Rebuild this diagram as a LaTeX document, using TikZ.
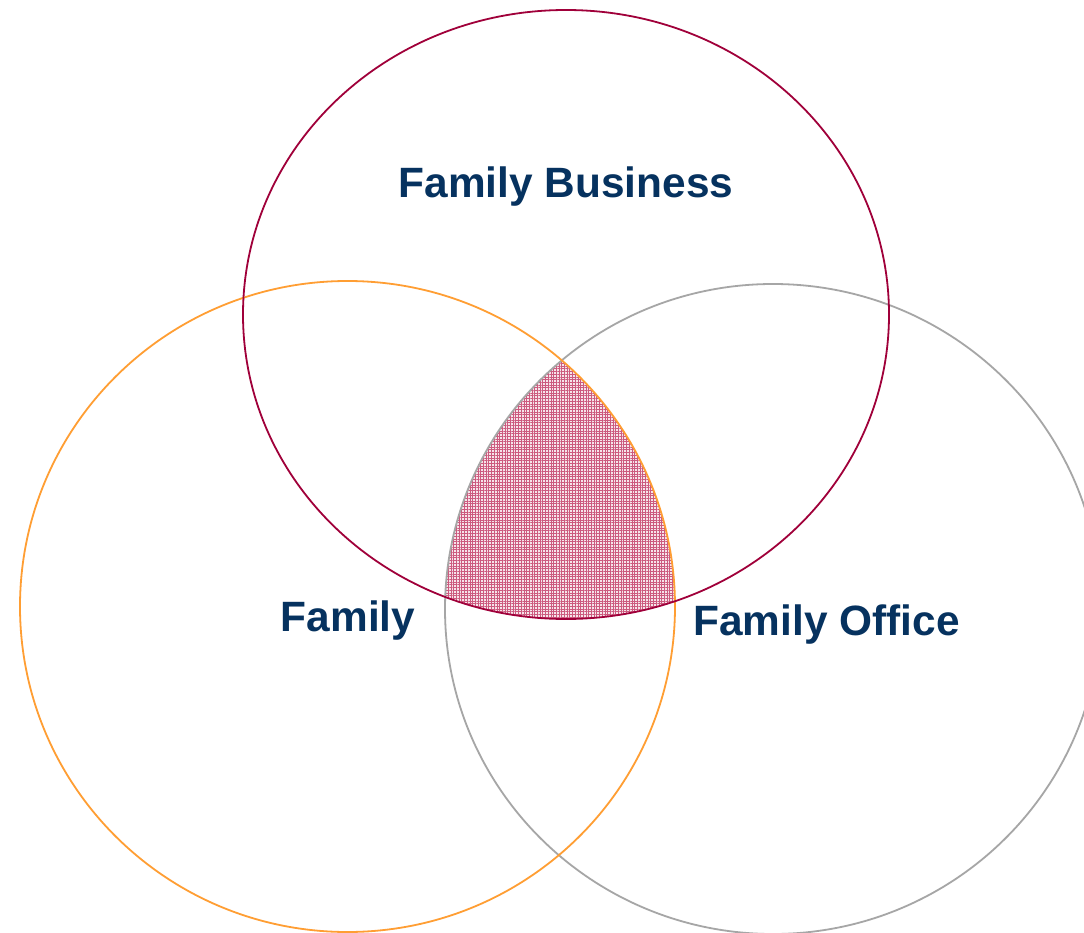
\documentclass[tikz,border=0pt]{standalone}
\usepackage{fontspec}
\setmainfont{Liberation Sans}
\usetikzlibrary{patterns.meta}
\definecolor{maroon}{HTML}{A0003A}
\definecolor{orng}{HTML}{FF9E33}
\definecolor{grayc}{HTML}{A6A6A6}
\definecolor{navy}{HTML}{06325F}
\definecolor{hatchbg}{HTML}{F6E4EA}
\definecolor{hatchln}{HTML}{CC5A7E}
\tikzset{
  ring/.style={line width=1.8pt},
  lbl/.style={inner sep=0pt, anchor=base, text=navy, font=\fontsize{42.4}{50}\selectfont\bfseries},
}
\begin{document}
\begin{tikzpicture}[x=1pt,y=-1pt]
\useasboundingbox (0,0) rectangle (1084,933);
\clip (0,0) rectangle (1084,933);
\fill[white] (0,0) rectangle (1084,933);
% shaded intersection
\begin{scope}
  \clip (773,609) ellipse [x radius=328pt, y radius=325pt];
  \clip (347.5,606.5) ellipse [x radius=327.5pt, y radius=325.5pt];
  \fill[hatchbg] (566,314.5) ellipse [x radius=323pt, y radius=304.5pt];
  \fill[pattern={Lines[distance=2.7pt,angle=0,line width=0.55pt]}, pattern color=hatchln] (566,314.5) ellipse [x radius=323pt, y radius=304.5pt];
  \fill[pattern={Lines[distance=2.7pt,angle=90,line width=0.55pt]}, pattern color=hatchln] (566,314.5) ellipse [x radius=323pt, y radius=304.5pt];
\end{scope}
% circles
\draw[ring, grayc] (773,609) ellipse [x radius=328pt, y radius=325pt];
\draw[ring, orng] (347.5,606.5) ellipse [x radius=327.5pt, y radius=325.5pt];
\draw[ring, maroon] (566,314.5) ellipse [x radius=323pt, y radius=304.5pt];
% labels
\node[lbl] (fb) at (566,198) {Family Business};
\node[lbl] (fam) at (348,631) {Family};
\node[lbl] (fo) at (826.5,635) {Family Office};
\end{tikzpicture}
\end{document}
